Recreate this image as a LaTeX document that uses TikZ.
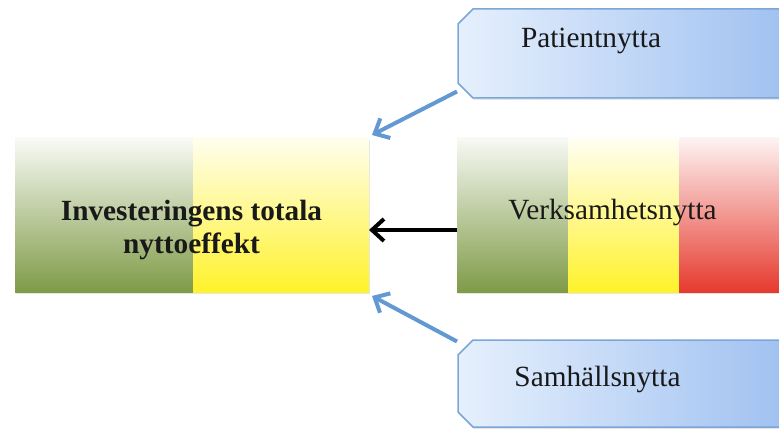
\documentclass[tikz,border=0pt]{standalone}
\usepackage{fontspec}
\setmainfont{Liberation Serif}
\newfontfamily\nyttafont{Liberation Serif}
\usetikzlibrary{arrows.meta,shadows}

\definecolor{benefitgreen}{HTML}{7F9B47}
\definecolor{benefityellow}{HTML}{FFF22B}
\definecolor{benefitred}{HTML}{E63A2E}
\definecolor{calloutleft}{HTML}{E6F0FD}
\definecolor{calloutright}{HTML}{9DBFF0}
\definecolor{calloutline}{HTML}{7CA6D8}
\definecolor{arrowblue}{HTML}{6399D3}

\begin{document}
\begin{tikzpicture}[x=1pt, y=1pt,
    every node/.style={font=\nyttafont\fontsize{29.3}{33}\selectfont, text=black!90},
    panel/.style={rectangle, fill=white, minimum height=154pt, inner sep=0pt, outer sep=0pt,
                  drop shadow={opacity=0.2, shadow xshift=1pt, shadow yshift=-2pt}},
    callout/.style={draw=calloutline, line width=1.5pt,
                    left color=calloutleft, right color=calloutright,
                    drop shadow={opacity=0.2, shadow xshift=1pt, shadow yshift=-2pt}},
    benefitarrow/.style={draw=arrowblue, line width=4pt, -{Straight Barb[length=12pt, width=22pt]}},
    pointer/.style={draw=black, line width=4pt, -{Straight Barb[length=12pt, width=22pt]}}]

  \useasboundingbox (0,0) rectangle (779,429);

  % === Total effect (left) ===
  \node[panel, minimum width=354pt] (total) at (192,214) {};
  \shade[top color=benefitgreen!5, bottom color=benefitgreen] (15,137) rectangle (193,291);
  \shade[top color=benefityellow!8, bottom color=benefityellow] (193,137) rectangle (369,291);
  \node[font=\nyttafont\fontsize{29.3}{33}\selectfont\bfseries, align=center] (totaltxt) at (191.5,199.5)
    {Investeringens totala\\nyttoeffekt};

  % === Operational benefit (right) ===
  \node[panel, minimum width=333pt] (verks) at (623.5,214) {};
  \foreach \c [count=\i from 0] in {benefitgreen,benefityellow,benefitred} {
    \shade[top color=\c!6, bottom color=\c] ({457+111*\i},137) rectangle ({568+111*\i},291);
  }
  \node[anchor=base] (verkstxt) at (612.5,209) {Verksamhetsnytta};

  % arrows (drawn before the callouts)
  \draw[pointer] ([yshift=-15pt]verks.west) -- ([yshift=-15pt]total.east);
  \coordinate (patienttail) at (457,337.5);
  \coordinate (samhalltail) at (457,87.5);
  \draw[benefitarrow] (patienttail) -- ([shift={(3,3)}]total.north east);
  \draw[benefitarrow] (samhalltail) -- ([shift={(3,-4)}]total.south east);

  % === Callouts (chamfered on the left) ===
  \foreach \yb/\yt in {331/420, 2/89} {
    \path[callout] (473,\yb) -- (458,{\yb+15}) -- (458,{\yt-15}) -- (473,\yt)
      -- (800,\yt) -- (800,\yb) -- cycle;
  }
  \node[anchor=base] (patienttxt) at (591,381) {Patientnytta};
  \node[anchor=base] (samhalltxt) at (597.5,43) {Samhällsnytta};

\end{tikzpicture}
\end{document}
